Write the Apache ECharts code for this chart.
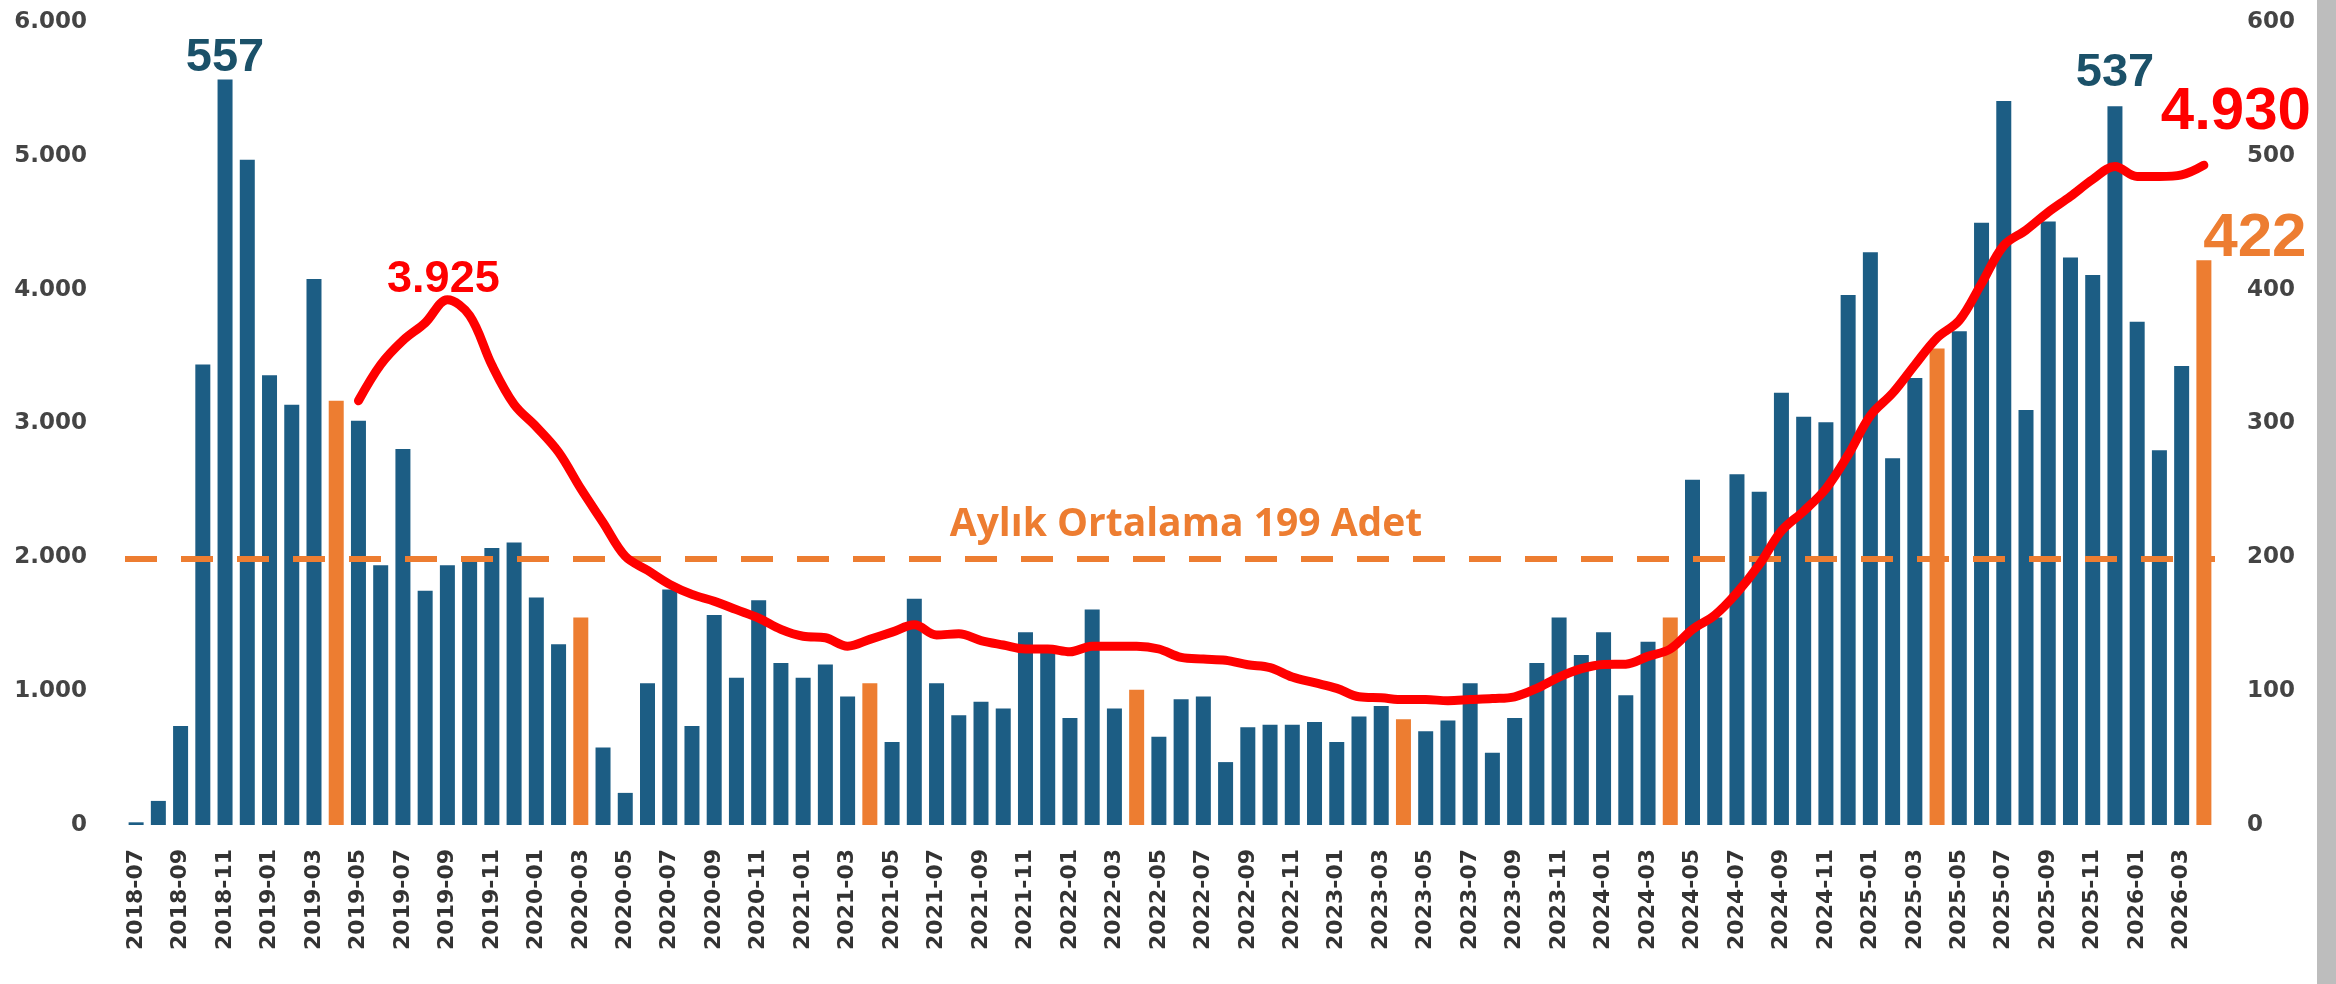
<!DOCTYPE html>
<html>
<head>
<meta charset="utf-8">
<script src="https://cdn.jsdelivr.net/npm/echarts@6/dist/echarts.min.js"></script>
<style>
  html, body { margin: 0; padding: 0; background: #ffffff; }
  #chart { width: 2336px; height: 984px; }
</style>
</head>
<body>
<div id="chart"></div>
<script>
// Months on the category axis
const months = [
  '2018-07','2018-08','2018-09','2018-10','2018-11','2018-12',
  '2019-01','2019-02','2019-03','2019-04','2019-05','2019-06','2019-07','2019-08','2019-09','2019-10','2019-11','2019-12',
  '2020-01','2020-02','2020-03','2020-04','2020-05','2020-06','2020-07','2020-08','2020-09','2020-10','2020-11','2020-12',
  '2021-01','2021-02','2021-03','2021-04','2021-05','2021-06','2021-07','2021-08','2021-09','2021-10','2021-11','2021-12',
  '2022-01','2022-02','2022-03','2022-04','2022-05','2022-06','2022-07','2022-08','2022-09','2022-10','2022-11','2022-12',
  '2023-01','2023-02','2023-03','2023-04','2023-05','2023-06','2023-07','2023-08','2023-09','2023-10','2023-11','2023-12',
  '2024-01','2024-02','2024-03','2024-04','2024-05','2024-06','2024-07','2024-08','2024-09','2024-10','2024-11','2024-12',
  '2025-01','2025-02','2025-03','2025-04','2025-05','2025-06','2025-07','2025-08','2025-09','2025-10','2025-11','2025-12',
  '2026-01','2026-02','2026-03','2026-04'
];

// Monthly count (right axis)
const monthlyCount = [
  2, 18, 74, 344, 557, 497,
  336, 314, 408, 317, 302, 194, 281, 175, 194, 197, 207, 211,
  170, 135, 155, 58, 24, 106, 176, 74, 157, 110, 168, 121,
  110, 120, 96, 106, 62, 169, 106, 82, 92, 87, 144, 129,
  80, 161, 87, 101, 66, 94, 96, 47, 73, 75, 75, 77,
  62, 81, 89, 79, 70, 78, 106, 54, 80, 121, 155, 127,
  144, 97, 137, 155, 258, 155, 262, 249, 323, 305, 301, 396,
  428, 274, 334, 356, 369, 450, 541, 310, 451, 424, 411, 537,
  376, 280, 343, 422
];

// 12-month running total (left axis)
const runningTotal = [
  null, null, null, null, null, null,
  null, null, null, null, 3170, 3440, 3620, 3752, 3925, 3807, 3437, 3143,
  2975, 2786, 2513, 2261, 2008, 1903, 1798, 1723, 1672, 1609, 1546, 1462,
  1410, 1399, 1336, 1387, 1441, 1496, 1420, 1429, 1378, 1345, 1315, 1315,
  1294, 1336, 1336, 1336, 1315, 1252, 1240, 1231, 1197, 1176, 1105, 1063,
  1021, 958, 950, 937, 937, 929, 937, 945, 958, 1021, 1105, 1168,
  1200, 1202, 1260, 1315, 1462, 1567, 1735, 1945, 2197, 2345, 2513, 2765,
  3059, 3227, 3437, 3640, 3770, 4046, 4330, 4445, 4580, 4697, 4824, 4920,
  4845, 4845, 4857, 4930
];

// Months drawn in the accent colour
const accentMonths = ['2019-04','2020-03','2021-04','2022-04','2023-04','2024-04','2025-04','2026-04'];

// Monthly average shown by the dashed line
const monthlyAverage = 199;

// Axis ticks
const leftTicks = [0, 1000, 2000, 3000, 4000, 5000, 6000];
const rightTicks = [0, 100, 200, 300, 400, 500, 600];

const BLUE = '#1c5d84';
const ORANGE = '#ed7d31';
const RED = '#ff0000';
const TEAL = '#1b5169';
const BIGFONT = '"Liberation Sans", Arial, sans-serif';
const AXISFONT = '"DejaVu Sans", Verdana, sans-serif';

const fmtTR = v => String(v).replace(/\B(?=(\d{3})+(?!\d))/g, '.');

// value labels above the two peak bars
const peakLabelOffsets = { '2018-11': [0, 4], '2025-12': [0, -8] };
const lastMonth = months[months.length - 1];

const barData = monthlyCount.map((v, i) => {
  const m = months[i];
  const item = { value: v, itemStyle: { color: accentMonths.includes(m) ? ORANGE : BLUE } };
  if (peakLabelOffsets[m]) {
    item.label = {
      show: true, position: 'top', distance: 2, offset: peakLabelOffsets[m],
      color: TEAL, fontFamily: BIGFONT, fontWeight: 'bold', fontSize: 47
    };
  } else if (m === lastMonth) {
    item.label = {
      show: true, position: 'top', distance: 0, offset: [51, 10],
      color: ORANGE, fontFamily: BIGFONT, fontWeight: 'bold', fontSize: 62
    };
  }
  return item;
});

const peakIdx = runningTotal.indexOf(Math.max(...runningTotal.slice(0, 40)));
const lineData = runningTotal.map((v, i) => {
  const item = { value: v };
  if (i === peakIdx) {
    item.label = {
      show: true, position: 'top', distance: 0, offset: [-4, 3],
      color: RED, fontFamily: BIGFONT, fontWeight: 'bold', fontSize: 45,
      formatter: p => fmtTR(p.value)
    };
  } else if (i === months.length - 1) {
    item.label = {
      show: true, position: 'top', distance: 0, offset: [32, -22],
      color: RED, fontFamily: BIGFONT, fontWeight: 'bold', fontSize: 60,
      formatter: p => fmtTR(p.value)
    };
  }
  return item;
});

const chart = echarts.init(document.getElementById('chart'), null, { renderer: 'canvas' });

chart.setOption({
  backgroundColor: '#ffffff',
  animation: false,
  grid: { left: 125, right: 121, top: 22, bottom: 159, containLabel: false },
  xAxis: {
    type: 'category',
    data: months,
    boundaryGap: true,
    axisLine: { show: false },
    axisTick: { show: false },
    axisLabel: {
      interval: 1, rotate: 90, margin: 24,
      color: '#333333', fontFamily: AXISFONT, fontWeight: 'bold', fontSize: 22
    }
  },
  yAxis: [
    {
      type: 'value', min: leftTicks[0], max: leftTicks[leftTicks.length - 1], interval: leftTicks[1] - leftTicks[0],
      position: 'left',
      splitLine: { show: false },
      axisLine: { show: false }, axisTick: { show: false },
      axisLabel: {
        margin: 38, color: '#444444', fontFamily: AXISFONT, fontWeight: 'bold', fontSize: 23,
        formatter: v => fmtTR(v)
      }
    },
    {
      type: 'value', min: rightTicks[0], max: rightTicks[rightTicks.length - 1], interval: rightTicks[1] - rightTicks[0],
      position: 'right',
      splitLine: { show: false },
      axisLine: { show: false }, axisTick: { show: false },
      axisLabel: {
        margin: 32, color: '#444444', fontFamily: AXISFONT, fontWeight: 'bold', fontSize: 23
      }
    }
  ],
  series: [
    {
      name: 'Aylık',
      type: 'bar',
      yAxisIndex: 1,
      barWidth: 15,
      data: barData,
      z: 2,
      markLine: {
        silent: true,
        symbol: 'none',
        data: [{ yAxis: monthlyAverage }],
        lineStyle: { type: [32, 24], width: 6, color: ORANGE },
        label: {
          position: 'insideMiddleTop',
          distance: 14,
          padding: [0, 0, 0, 32],
          formatter: 'Aylık Ortalama ' + monthlyAverage + ' Adet',
          color: ORANGE, fontFamily: '"Open Sans", "Noto Sans", sans-serif', fontWeight: 'bold', fontSize: 39
        },
        z: 3
      }
    },
    {
      name: '12 Aylık Toplam',
      type: 'line',
      yAxisIndex: 0,
      data: lineData,
      smooth: 0.35,
      symbol: 'circle',
      symbolSize: 1,
      showSymbol: true,
      itemStyle: { color: RED },
      lineStyle: { color: RED, width: 9, cap: 'round', join: 'round' },
      z: 5
    }
  ],
  graphic: [
    {
      type: 'rect', right: 0, top: 0,
      shape: { width: 19, height: 984 },
      style: { fill: '#bdbdbd' },
      silent: true
    }
  ]
});
</script>
</body>
</html>
